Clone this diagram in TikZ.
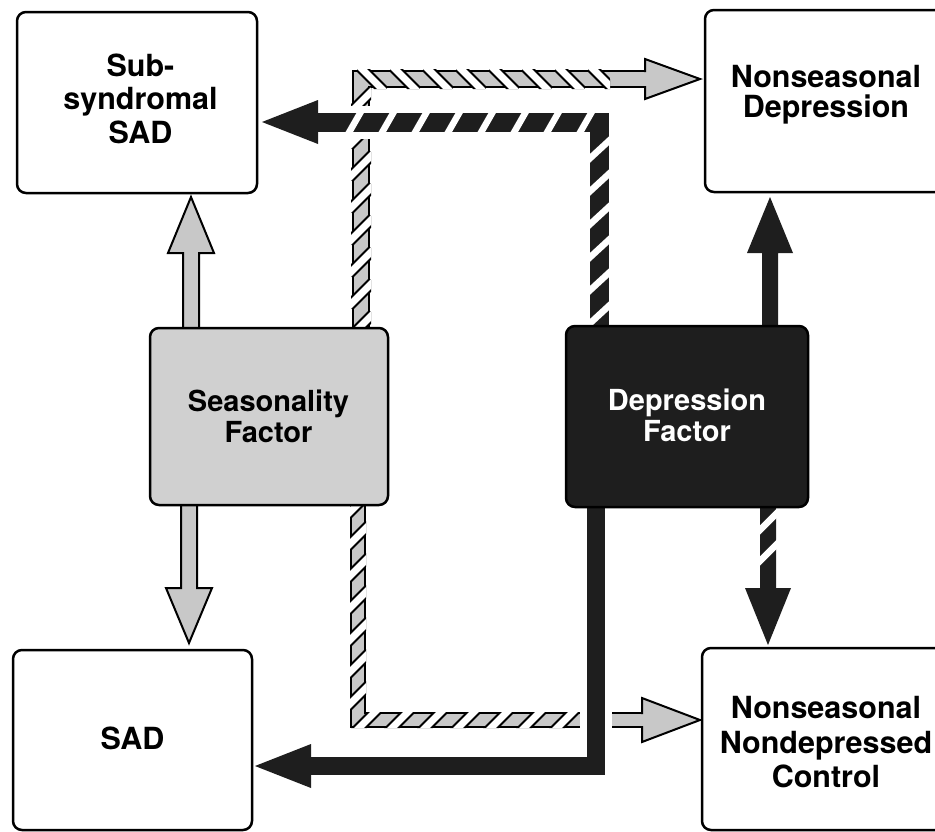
\documentclass[tikz,border=0pt]{standalone}
\usepackage{fontspec}
\setmainfont{TeX Gyre Heros}
\usetikzlibrary{calc}
\pgfdeclarelayer{bg}
\pgfsetlayers{bg,main}
\definecolor{lgray}{HTML}{C8C8C8}
\definecolor{boxgray}{HTML}{D0D0D0}
\definecolor{dark}{HTML}{1E1E1E}
\begin{document}
\begin{tikzpicture}[x=1pt,y=-1pt,
  box/.style={draw=black, line width=2.5pt, rounded corners=9pt, inner sep=0pt},
  lbl/.style={font=\fontsize{30.5}{#1}\selectfont\bfseries, align=center, inner sep=0pt},
  flbl/.style={font=\fontsize{29}{31}\selectfont\bfseries, align=center, inner sep=0pt},
  ghead/.style={fill=lgray, draw=black, line width=2pt, line join=miter},
  gout/.style={draw=black, line width=#1, line join=miter, line cap=butt},
  gin/.style={draw=lgray, line width=#1, line join=miter, line cap=butt},
  dline/.style={draw=dark, line width=#1, line join=miter, line cap=butt},
  halo/.style={draw=white, line width=#1, line cap=butt},
  hatchb/.style={draw=black, line width=11pt, line cap=butt},
  hatchw/.style={draw=white, line width=7pt, line cap=butt},
  hatchd/.style={draw=white, line width=6.5pt, line cap=butt},
]
\clip (0,0) rectangle (935,831);

% boxes
\node[box, minimum width=240pt, minimum height=181pt] (ssad) at (137,102.5) {};
\node[lbl=33.5] (ssadt) at (140.5,98.5) {Sub-\\syndromal\\SAD};
\node[box, minimum width=240pt, minimum height=182pt] (nsd) at (825,101) {};
\node[lbl=30.5] (nsdt) at (826,94.5) {Nonseasonal\\Depression};
\node[box, minimum width=239pt, minimum height=180pt] (sad) at (132.5,740) {};
\node[lbl=33] (sadt) at (132.5,738) {SAD};
\node[box, minimum width=243pt, minimum height=182pt] (nnc) at (823.5,739) {};
\node[lbl=34.5] (nnct) at (826,742.5) {Nonseasonal\\Nondepressed\\Control};
\node[box, fill=boxgray, minimum width=238pt, minimum height=177pt] (sf) at (269,416.5) {};
\node[flbl] (sft) at (268.5,416.5) {Seasonality\\Factor};
\node[box, fill=dark, minimum width=242pt, minimum height=181pt] (df) at (687,416.5) {};
\node[flbl, text=white] (dft) at (687,415) {Depression\\Factor};

\begin{pgfonlayer}{bg}
% gray arrows: seasonality -> sub-syndromal SAD and SAD
\path[ghead] (183,330) -- (183,253) -- (168,253) -- (191,197) -- (214,253) -- (199,253) -- (199,330);
\path[ghead] (181,503) -- (181,588) -- (166,588) -- (189,643) -- (212,588) -- (197,588) -- (197,503);

% gray hatched route: seasonality -> nonseasonal depression
\coordinate (a0) at (361,330);
\coordinate (a1) at (361,79);
\coordinate (a2) at (646,79);
\draw[gout=18pt] (a0) -- (a1) -- (a2);
\draw[gin=14pt] (a0) -- (a1) -- (a2);
\begin{scope}
  \clip (351,69) rectangle (371,330) (351,69) rectangle (610,89);
  \foreach \p in {326,294,...,100} {\draw[hatchb] (349,\p+12) -- (373,\p-12);}
  \foreach \p in {372,405,...,603} {\draw[hatchb] (\p-12,67) -- (\p+12,91);}
  \foreach \p in {326,294,...,100} {\draw[hatchw] (349,\p+12) -- (373,\p-12);}
  \foreach \p in {372,405,...,603} {\draw[hatchw] (\p-12,67) -- (\p+12,91);}
\end{scope}
\fill[lgray] (645,59) -- (700,79) -- (645,99) -- cycle;
\draw[ghead, fill=none] (645,72) -- (645,59) -- (700,79) -- (645,99) -- (645,86);

% gray hatched route: seasonality -> nonseasonal nondepressed control
\coordinate (b0) at (358,503);
\coordinate (b1) at (358,720);
\coordinate (b2) at (643,720);
\draw[gout=16pt] (b0) -- (b1) -- (b2);
\draw[gin=12pt] (b0) -- (b1) -- (b2);
\begin{scope}
  \clip (350,503) rectangle (366,728) (350,712) rectangle (592,728);
  \foreach \p in {504,536,...,700} {\draw[hatchb] (346,\p+12) -- (370,\p-12);}
  \foreach \p in {367,400,...,590} {\draw[hatchb] (\p-12,732) -- (\p+12,708);}
  \foreach \p in {504,536,...,700} {\draw[hatchw] (346,\p+12) -- (370,\p-12);}
  \foreach \p in {367,400,...,590} {\draw[hatchw] (\p-12,732) -- (\p+12,708);}
\end{scope}
\fill[lgray] (642,698) -- (700,720) -- (642,742) -- cycle;
\draw[ghead, fill=none] (642,714) -- (642,698) -- (700,720) -- (642,742) -- (642,726);

% dark hatched route: depression factor -> sub-syndromal SAD
\draw[halo=33pt] (599,122) -- (330,122);
\draw[dline=19pt] (599,328) -- (599,122) -- (318,122);
\fill[dark] (318,100) -- (262,122) -- (318,144) -- cycle;
\begin{scope}
  \clip (340,111) rectangle (610,133) (589,111) rectangle (610,330);
  \foreach \p in {355,388,...,590} {\draw[hatchd] (\p-8,136) -- (\p+8,108);}
  \foreach \p in {150,183,...,330} {\draw[hatchd] (586,\p+12) -- (612,\p-12);}
\end{scope}

% dark solid route: depression factor -> SAD
\draw[halo=32pt] (596,700) -- (596,740);
\draw[dline=18pt] (596,503) -- (596,766) -- (311,766);
\fill[dark] (311,744) -- (255,766) -- (311,788) -- cycle;

% dark arrows: depression factor -> nonseasonal depression / control
\fill[dark] (762,328) -- (762,253) -- (747,253) -- (770,197) -- (793,253) -- (778,253) -- (778,328) -- cycle;
\fill[dark] (760,505) -- (760,588) -- (745,588) -- (768,645) -- (791,588) -- (776,588) -- (776,505) -- cycle;
\begin{scope}
  \clip (758,507) rectangle (778,568);
  \foreach \p in {522,553} {\draw[hatchd] (756,\p+12) -- (780,\p-12);}
\end{scope}
\end{pgfonlayer}
\end{tikzpicture}
\end{document}
